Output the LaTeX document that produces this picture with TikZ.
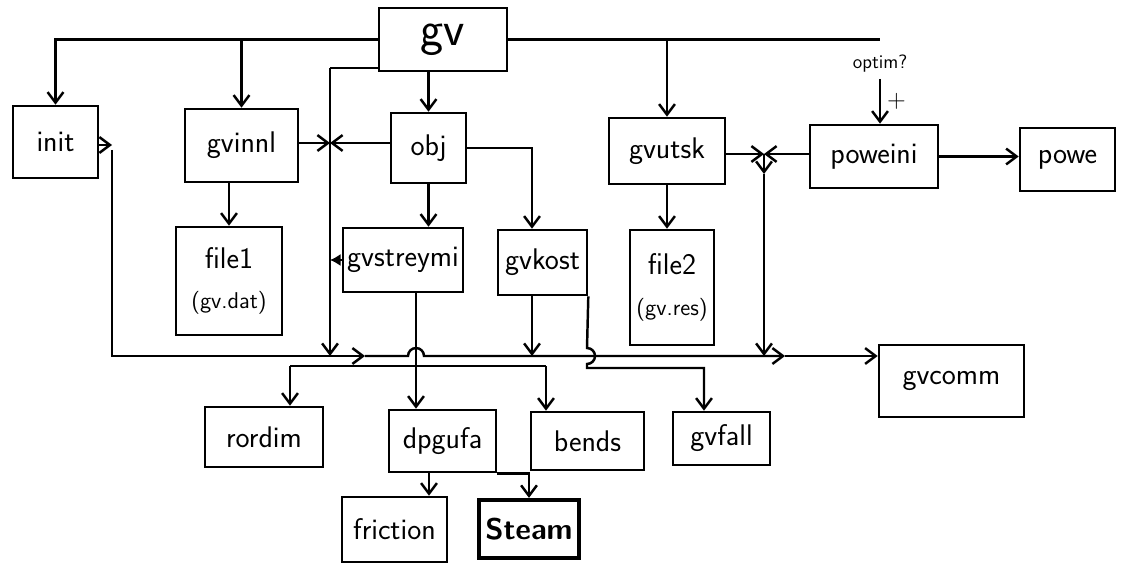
\documentclass[tikz,border=0pt]{standalone}
\usetikzlibrary{arrows.meta}

\begin{document}
\begin{tikzpicture}[x=0.02cm, y=-0.02cm, >={Straight Barb[length=6pt,width=9pt]},
  box/.style={draw, line width=1.5pt, inner sep=0pt, font=\sffamily\fontsize{17}{19}\selectfont},
  wire/.style={line width=1.4pt},
  arr/.style={wire, ->}]
  \useasboundingbox (0,0) rectangle (1121,564);

  % Main program
  \node[box, font=\sffamily\fontsize{28}{30}\selectfont, minimum width=2.56cm, minimum height=1.26cm] (gv) at (443,39.5) {gv};

  % First level
  \node[box, minimum width=1.70cm, minimum height=1.44cm] (init) at (55.5,142) {init};
  \node[box, minimum width=2.26cm, minimum height=1.46cm] (gvinnl) at (241.5,145.5) {gvinnl};
  \node[box, minimum width=1.50cm, minimum height=1.40cm] (obj) at (428.5,148) {obj};
  \node[box, minimum width=2.32cm, minimum height=1.32cm] (gvutsk) at (667,151) {gvutsk};
  \node[box, minimum width=2.56cm, minimum height=1.26cm] (poweini) at (874,156.5) {poweini};
  \node[box, minimum width=1.90cm, minimum height=1.26cm] (powe) at (1067.5,159.5) {powe};
  \node[font=\sffamily\fontsize{11}{12}\selectfont] (optim) at (880,64) {optim?};

  % Files and second level
  \node[box, minimum width=2.12cm, minimum height=2.16cm, align=center] (file1) at (229,281)
    {file1\\[4pt]{\fontsize{13}{15}\selectfont(gv.dat)}};
  \node[box, minimum width=2.40cm, minimum height=1.28cm] (gvstreymi) at (403,260) {gvstreymi};
  \node[box, minimum width=1.78cm, minimum height=1.30cm] (gvkost) at (542.5,262.5) {gvkost};
  \node[box, minimum width=1.68cm, minimum height=2.30cm, align=center] (file2) at (672,287.5)
    {file2\\[4pt]{\fontsize{13}{15}\selectfont(gv.res)}};
  \node[box, minimum width=2.90cm, minimum height=1.44cm] (gvcomm) at (951.5,381) {gvcomm};

  % Bottom level
  \node[box, minimum width=2.36cm, minimum height=1.20cm] (rordim) at (264,437) {rordim};
  \node[box, minimum width=2.14cm, minimum height=1.24cm] (dpgufa) at (442.5,441) {dpgufa};
  \node[box, minimum width=2.26cm, minimum height=1.16cm] (bends) at (587.5,441) {bends};
  \node[box, minimum width=1.94cm, minimum height=1.06cm] (gvfall) at (721.5,438.5) {gvfall};
  \node[box, minimum width=2.10cm, minimum height=1.30cm] (friction) at (394.5,529.5) {friction};
  \node[box, line width=2.4pt, font=\sffamily\bfseries\fontsize{17}{19}\selectfont,
    minimum width=2.00cm, minimum height=1.16cm] (Steam) at (529,529) {Steam};

  % Helper points
  \coordinate (lft) at (330,68);
  \coordinate (jl) at (330,143);
  \coordinate (jr) at (764,154);
  \coordinate (jrd) at (764,174);
  \coordinate (ib) at (112,145);
  \coordinate (ibt) at (112,150);
  \coordinate (bus) at (0,356);
  \coordinate (b1) at (365,356);
  \coordinate (hop) at (408,356);
  \coordinate (b2) at (785,356);
  \coordinate (kd) at (532,0);
  \coordinate (sd) at (416,366);
  \coordinate (sl) at (290,366);
  \coordinate (sr) at (546,366);
  \coordinate (kb) at (587,348);
  \coordinate (gf) at (704,368);
  \coordinate (fr) at (429,0);

  % Calls from gv
  \draw[arr] (gv.west) -| (init.north);
  \draw[arr] (gvinnl.north |- gv.west) -- (gvinnl.north);
  \draw[wire] (gv.east) -- (optim.north |- gv.east);
  \draw[arr] (gvutsk.north |- gv.east) -- (gvutsk.north);
  \draw[arr] (optim.south) -- (optim.south |- poweini.north)
    node[midway, right, font=\sffamily\fontsize{14}{14}\selectfont] {+};
  \draw[arr] (obj.north |- gv.south) -- (obj.north);
  \draw[wire] (gv.west |- lft) -- (lft);
  \draw[arr] (lft) -- (lft |- bus);

  % Into the left line
  \draw[arr] (gvinnl.east |- jl) -- (jl);
  \draw[arr] (obj.west |- jl) -- (jl);
  \draw[wire, -{Latex[length=6pt,width=7pt]}] (gvstreymi.west) -- (gvstreymi.west -| lft);

  % obj, gvinnl, gvutsk downwards
  \draw[arr] (obj.south) -- (obj.south |- gvstreymi.north);
  \draw[arr] (obj.east) -| (kd |- gvkost.north);
  \draw[arr] (file1.north |- gvinnl.south) -- (file1.north);
  \draw[arr] (gvutsk.south) -- (gvutsk.south |- file2.north);

  % Right junction
  \draw[arr] (gvutsk.east |- jr) -- (jr);
  \draw[arr] (poweini.west |- jr) -- (jr);
  \draw[arr] (jr) -- (jrd);
  \draw[arr] (jrd) -- (jrd |- bus);
  \draw[arr] (poweini.east) -- (poweini.east -| powe.west);

  % Line to gvcomm
  \draw[arr] (init.east |- ib) -- (ib);
  \draw[arr] (ibt) |- (b1);
  \draw[arr] (b1) -- (hop) arc[start angle=180, end angle=0, radius=0.16cm] -- (b2);
  \draw[arr] (b2) -- (b2 -| gvcomm.west);
  \draw[arr] (kd |- gvkost.south) -- (kd |- bus);

  % gvstreymi downwards
  \draw[arr] (sd |- gvstreymi.south) -- (sd |- dpgufa.north);
  \draw[wire] (sl) -- (sr);
  \draw[arr] (sl) -- (sl |- rordim.north);
  \draw[arr] (sr) -- (sr |- bends.north);

  % gvkost to gvfall
  \draw[arr] (gvkost.south east) -- (kb) arc[start angle=90, end angle=-90, radius=0.16cm]
    -- (kb |- gf) -| (gf |- gvfall.north);

  % dpgufa downwards
  \draw[arr] (fr |- dpgufa.south) -- (fr |- friction.north);
  \draw[arr] (dpgufa.south east) -| (Steam.north);
\end{tikzpicture}
\end{document}
